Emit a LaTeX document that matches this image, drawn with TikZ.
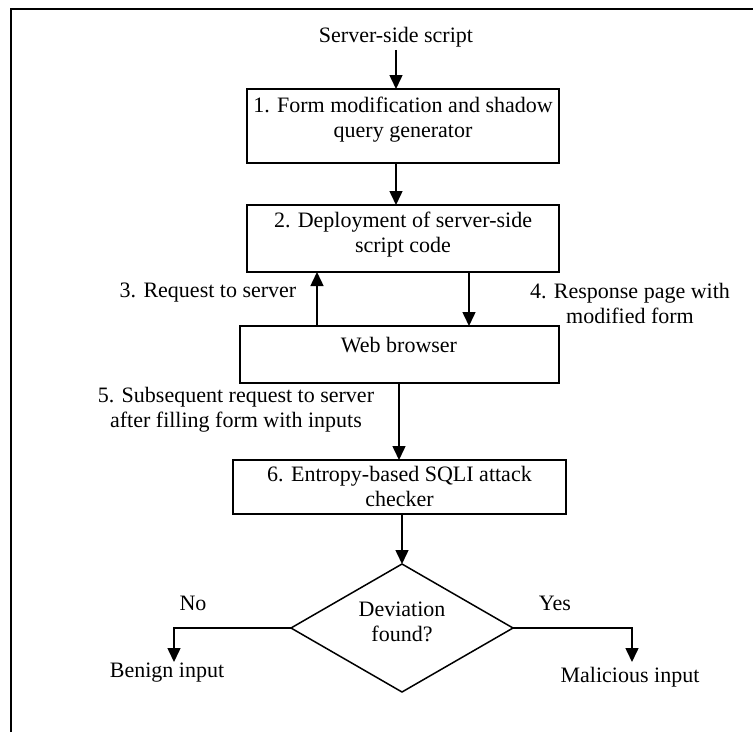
\documentclass[tikz,border=0pt]{standalone}
\usepackage{fontspec}
\setmainfont{Liberation Serif}
\usetikzlibrary{arrows.meta,shapes.geometric}
\begin{document}
\begin{tikzpicture}[x=1pt,y=-1pt,
  every node/.style={font=\fontsize{22}{25}\selectfont, inner sep=0pt, outer sep=0pt},
  box/.style={draw, line width=1.5pt, rectangle},
  lbl/.style={align=center},
  arr/.style={line width=1.5pt, -{Triangle[length=14pt,width=13pt]}},
  dec/.style={draw, diamond, line width=1.5pt, minimum width=222pt, minimum height=128pt}]
\useasboundingbox (0,0) rectangle (753,732);
\draw[line width=2.2pt] (11,732) -- (11,9) -- (753,9);

% boxes
\node[box, minimum width=312pt, minimum height=74pt] (b1) at (403,126) {};
\node[box, minimum width=312pt, minimum height=67pt] (b2) at (403,238.5) {};
\node[box, minimum width=319pt, minimum height=57pt] (br) at (399.5,354.5) {};
\node[box, minimum width=333pt, minimum height=54pt] (b6) at (399.5,487) {};
\node[dec] (dm) at (402,628) {};

% texts
\node (src) at (396,37) {Server-side script};
\node[lbl] (t1) at (403,119.5) {1. Form modification and shadow\\query generator};
\node[lbl] (t2) at (403,235) {2. Deployment of server-side\\script code};
\node (t3) at (399,345) {Web browser};
\node[lbl] (t6) at (399.5,486) {6. Entropy-based SQLI attack\\checker};
\node[lbl] (td) at (402,622) {Deviation\\found?};
\node (l3) at (208,293) {3. Request to server};
\node[lbl] (l4) at (630,303) {4. Response page with\\modified form};
\node[lbl] (l5) at (236,410) {5. Subsequent request to server\\after filling form with inputs};
\node (no) at (193,603) {No};
\node (yes) at (555,603) {Yes};
\node (benign) at (167,673) {Benign input};
\node (mal) at (630,677) {Malicious input};

% helper coordinates
\coordinate (up) at (317,0);
\coordinate (down) at (469,0);
\coordinate (mid) at (399,0);
\coordinate (nend) at (174,662);
\coordinate (yend) at (632,662);

% connectors
\draw[arr] ([yshift=-3pt]src.south) -- (src.south |- b1.north);
\draw[arr] (src |- b1.south) -- (src |- b2.north);
\draw[arr] (up |- br.north) -- (up |- b2.south);
\draw[arr] (down |- b2.south) -- (down |- br.north);
\draw[arr] (mid |- br.south) -- (mid |- b6.north);
\draw[arr] (dm.north |- b6.south) -- (dm.north);
\draw[arr] (dm.west) -| (nend);
\draw[arr] (dm.east) -| (yend);
\end{tikzpicture}
\end{document}
